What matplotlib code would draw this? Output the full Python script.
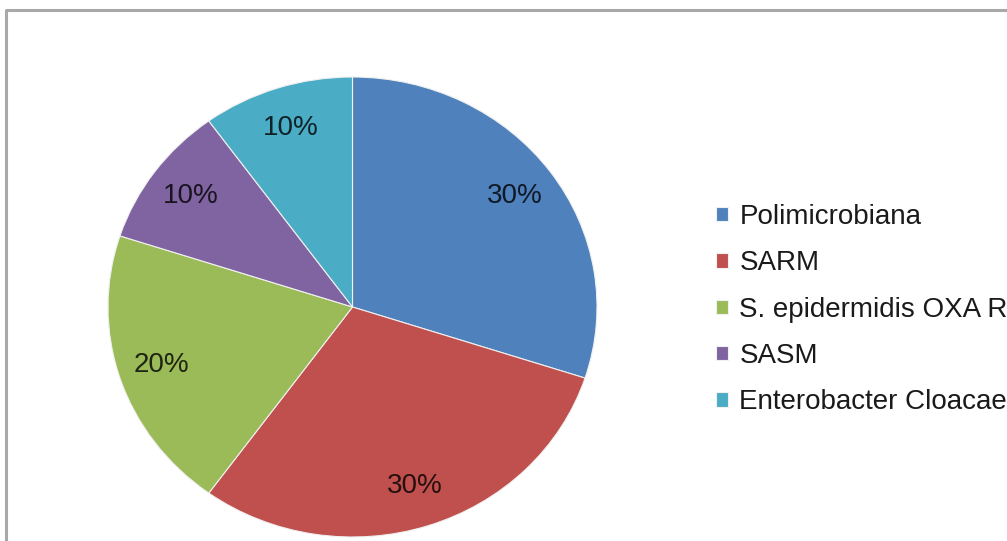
import matplotlib.pyplot as plt
from matplotlib.lines import Line2D

# infection agents and their share (%)
agents = ['Polimicrobiana', 'SARM', 'S. epidermidis OXA R',
          'SASM', 'Enterobacter Cloacae']
shares = [30, 30, 20, 10, 10]
colors = ['#4F81BD', '#C0504D', '#9BBB59', '#8064A2', '#4BACC6']

plt.rcParams['font.family'] = ['Liberation Sans', 'DejaVu Sans']

W, H = 1007, 541
fig = plt.figure(figsize=(W / 100, H / 100), dpi=100)
fig.patch.set_facecolor('white')

# grey chart frame (open on right and bottom)
fig.add_artist(Line2D([6 / W, 6 / W, 1.0], [0.0, 1 - 10 / H, 1 - 10 / H],
                      transform=fig.transFigure, color='#a8a8a8', lw=2.2))

# pie axes, slightly wider than tall
ax = fig.add_axes([108 / W, 4 / H, 489 / W, 460 / H])
wedges, texts, autotexts = ax.pie(
    shares,
    colors=colors,
    startangle=90,
    counterclock=False,
    autopct='%d%%',
    pctdistance=0.82,
    wedgeprops=dict(edgecolor='#f0f0f0', linewidth=0.8),
    textprops=dict(fontsize=20, color='black', alpha=0.8),
)
ax.set_aspect('auto')
ax.set_xlim(-1, 1)
ax.set_ylim(-1, 1)

leg = fig.legend(wedges, agents,
                 loc='upper left', bbox_to_anchor=(705 / W, 1 - 193 / H),
                 frameon=False, fontsize=20,
                 handlelength=0.42, handleheight=0.42, handletextpad=0.42,
                 labelspacing=0.73, borderaxespad=0)
for t in leg.get_texts():
    t.set_color('#1a1a1a')

plt.savefig('out.png', dpi=100, facecolor='white')
